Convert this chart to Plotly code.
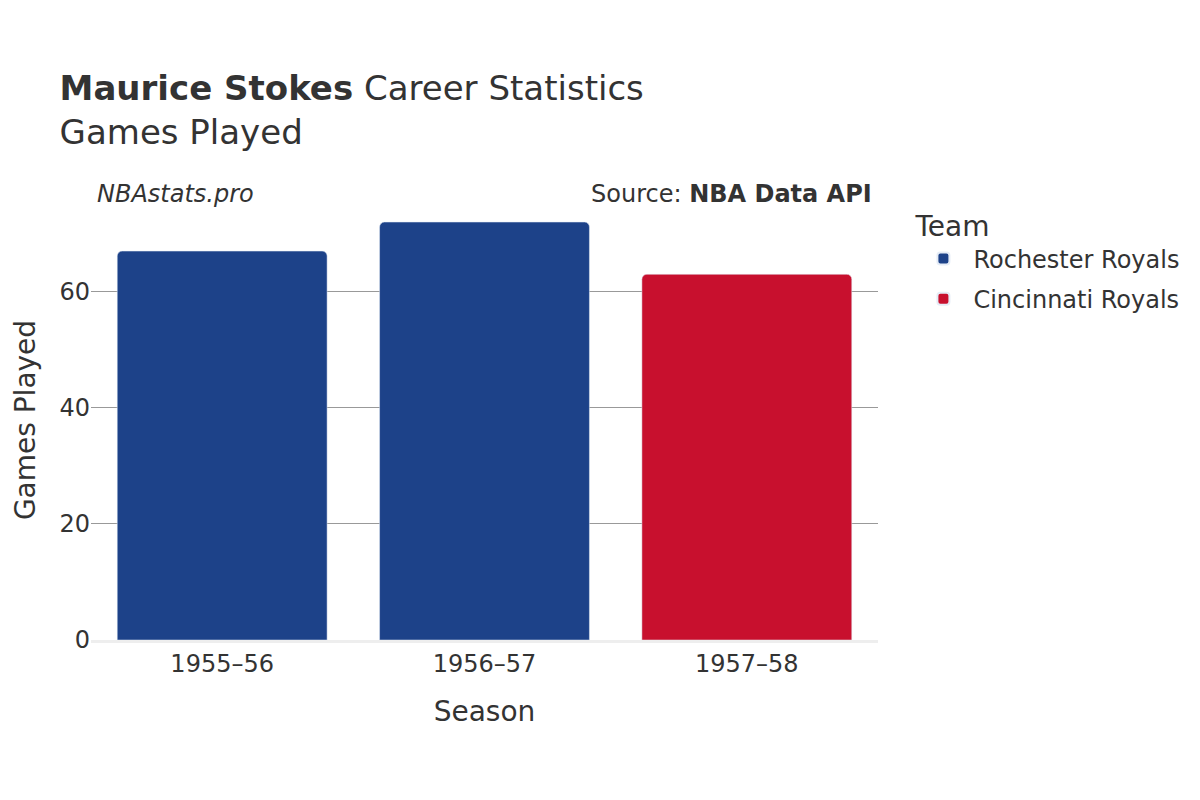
import plotly.graph_objects as go

seasons = ["1955–56", "1956–57", "1957–58"]
teams = ["Rochester Royals", "Rochester Royals", "Cincinnati Royals"]
games = [67, 72, 63]
colors = {"Rochester Royals": "#1D4289", "Cincinnati Royals": "#C8102E"}

fig = go.Figure()
for team in ["Rochester Royals", "Cincinnati Royals"]:
    xs = [s for s, t in zip(seasons, teams) if t == team]
    ys = [g for g, t in zip(games, teams) if t == team]
    fig.add_bar(x=xs, y=ys, name=team, marker_color=colors[team], legendgroup=team)

fig.update_layout(
    width=1200, height=800,
    font=dict(family="DejaVu Sans", color="#333", size=24),
    plot_bgcolor="white", paper_bgcolor="white",
    margin=dict(l=83, r=330, t=192, b=168),
    barcornerradius=5, bargap=0.2, barmode="overlay",
    title=dict(text="<b>Maurice Stokes</b> Career Statistics<br>Games Played",
               x=0.043, xanchor="left", y=0.885, yanchor="middle", font=dict(size=34)),
    xaxis=dict(title=dict(text="Season", font=dict(size=28), standoff=25), categoryorder="array",
               categoryarray=seasons, showline=True, linecolor="#eee", linewidth=3,
               tickfont=dict(size=24)),
    yaxis=dict(title=dict(text="Games Played", font=dict(size=28), standoff=15), range=[0, 75.8],
               gridcolor="#999", tickvals=[0, 20, 40, 60], tickfont=dict(size=24),
               zeroline=False),
    legend=dict(title=dict(text="Team", font=dict(size=28)), x=1.045, y=1.0,
                yanchor="top", font=dict(size=24), itemsizing="constant",
                tracegroupgap=6, itemwidth=50),
    annotations=[
        dict(text="<i>NBAstats.pro</i>", xref="paper", yref="paper", x=0.005, y=1.05,
             xanchor="left", showarrow=False, font=dict(size=24)),
        dict(text="Source: <b>NBA Data API</b>", xref="paper", yref="paper", x=0.995,
             y=1.05, xanchor="right", showarrow=False, font=dict(size=24)),
    ],
)
fig.write_html("out.html")
